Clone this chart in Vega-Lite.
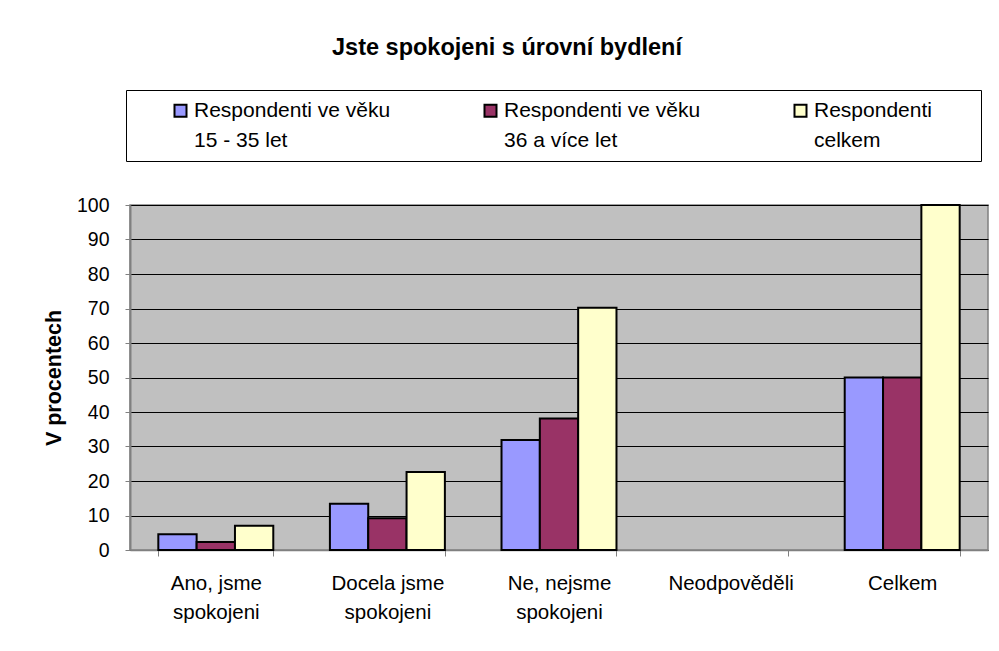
{
  "$schema": "https://vega.github.io/schema/vega-lite/v6.json",
  "width": 858,
  "height": 345,
  "autosize": {"type": "none"},
  "padding": {"left": 130, "top": 205, "right": 11, "bottom": 101},
  "background": "white",
  "title": {
    "text": "Jste spokojeni s úrovní bydlení",
    "fontSize": 23.5,
    "fontWeight": "bold",
    "anchor": "middle",
    "dx": -52,
    "offset": 30,
    "color": "black"
  },
  "data": {
    "values": [
      {"cat": "Ano, jsme spokojeni", "series": "Respondenti ve věku 15 - 35 let", "value": 4.6},
      {"cat": "Ano, jsme spokojeni", "series": "Respondenti ve věku 36 a více let", "value": 2.3},
      {"cat": "Ano, jsme spokojeni", "series": "Respondenti celkem", "value": 7.0},
      {"cat": "Docela jsme spokojeni", "series": "Respondenti ve věku 15 - 35 let", "value": 13.4},
      {"cat": "Docela jsme spokojeni", "series": "Respondenti ve věku 36 a více let", "value": 9.2},
      {"cat": "Docela jsme spokojeni", "series": "Respondenti celkem", "value": 22.6},
      {"cat": "Ne, nejsme spokojeni", "series": "Respondenti ve věku 15 - 35 let", "value": 31.9},
      {"cat": "Ne, nejsme spokojeni", "series": "Respondenti ve věku 36 a více let", "value": 38.1},
      {"cat": "Ne, nejsme spokojeni", "series": "Respondenti celkem", "value": 70.2},
      {"cat": "Celkem", "series": "Respondenti ve věku 15 - 35 let", "value": 50},
      {"cat": "Celkem", "series": "Respondenti ve věku 36 a více let", "value": 50},
      {"cat": "Celkem", "series": "Respondenti celkem", "value": 100}
    ]
  },
  "mark": {"type": "bar", "stroke": "black", "strokeWidth": 2},
  "encoding": {
    "x": {
      "field": "cat",
      "type": "nominal",
      "sort": ["Ano, jsme spokojeni", "Docela jsme spokojeni", "Ne, nejsme spokojeni", "Neodpověděli", "Celkem"],
      "scale": {
        "domain": ["Ano, jsme spokojeni", "Docela jsme spokojeni", "Ne, nejsme spokojeni", "Neodpověděli", "Celkem"],
        "paddingInner": 0.33,
        "paddingOuter": 0.165
      },
      "axis": {
        "title": null,
        "labelAngle": 0,
        "labelFontSize": 20.5,
        "labelPadding": 17,
        "labelLineHeight": 29,
        "labelBaseline": "top",
        "tickBand": "extent",
        "tickSize": 6,
        "tickColor": "#808080",
        "domainColor": "#808080",
        "domainWidth": 1.5,
        "grid": false,
        "labelExpr": "indexof(datum.label, ' ') < 0 ? datum.label : [substring(datum.label, 0, lastindexof(datum.label, ' ')), substring(datum.label, lastindexof(datum.label, ' ') + 1)]"
      }
    },
    "xOffset": {
      "field": "series",
      "type": "nominal",
      "sort": ["Respondenti ve věku 15 - 35 let", "Respondenti ve věku 36 a více let", "Respondenti celkem"],
      "scale": {"paddingInner": 0, "paddingOuter": 0}
    },
    "y": {
      "field": "value",
      "type": "quantitative",
      "scale": {"domain": [0, 100]},
      "axis": {
        "title": "V procentech",
        "titleFontSize": 21.5,
        "titleFontWeight": "bold",
        "titlePadding": 11,
        "values": [0, 10, 20, 30, 40, 50, 60, 70, 80, 90, 100],
        "labelFontSize": 19.5,
        "labelPadding": 16,
        "tickSize": 5,
        "tickColor": "#808080",
        "domainColor": "#808080",
        "domainWidth": 2,
        "grid": true,
        "gridColor": "black",
        "gridWidth": 1,
        "gridOpacity": 1
      }
    },
    "color": {
      "field": "series",
      "type": "nominal",
      "scale": {
        "domain": ["Respondenti ve věku 15 - 35 let", "Respondenti ve věku 36 a více let", "Respondenti celkem"],
        "range": ["#9999FF", "#993366", "#FFFFCC"]
      },
      "legend": {
        "orient": "none",
        "legendX": -4,
        "legendY": -115,
        "direction": "horizontal",
        "columns": 3,
        "title": null,
        "symbolType": "square",
        "symbolSize": 144,
        "symbolStrokeColor": "black",
        "symbolStrokeWidth": 2,
        "symbolOpacity": 1,
        "symbolOffset": 34,
        "labelFontSize": 21,
        "labelLimit": 400,
        "labelOffset": 3,
        "labelBaseline": "middle",
        "columnPadding": 55,
        "gridAlign": "each",
        "padding": 10,
        "strokeColor": "black",
        "fillColor": "white",
        "labelExpr": "indexof(datum.label, 'věku') > 0 ? [substring(datum.label, 0, 19), substring(datum.label, 20)] : [substring(datum.label, 0, 11) + '    \u2800', substring(datum.label, 12)]"
      }
    }
  },
  "config": {
    "font": "Liberation Sans",
    "view": {"fill": "#C0C0C0", "stroke": "#808080", "strokeWidth": 1.5},
    "axis": {"labelColor": "black", "titleColor": "black", "labelFont": "Liberation Sans", "titleFont": "Liberation Sans"},
    "legend": {"labelColor": "black"},
    "style": {"guide-label": {"lineHeight": 30}}
  }
}
